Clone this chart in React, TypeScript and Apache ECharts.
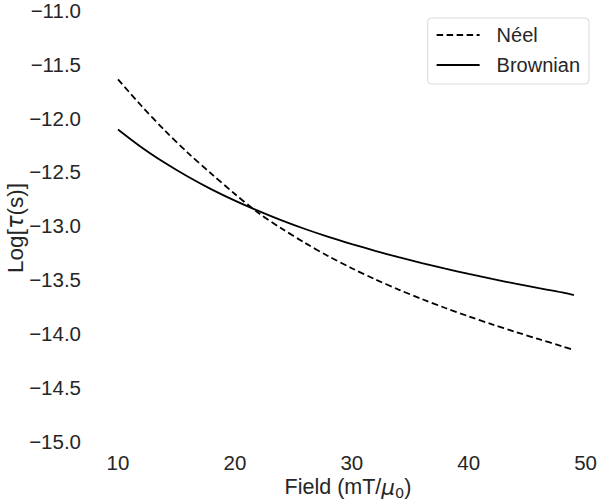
import React, { useEffect, useRef } from "react";
import * as echarts from "echarts";

const fieldValues = [10, 12, 14, 16, 18, 20, 22, 24, 26, 28, 30, 32, 34, 36, 38, 40, 42, 44, 46, 48, 49];
const neelLog = [-11.64, -11.885, -12.115, -12.325, -12.518, -12.705, -12.88, -13.026, -13.16, -13.283, -13.395, -13.498, -13.593, -13.681, -13.764, -13.842, -13.916, -13.986, -14.054, -14.12, -14.155];
const brownianLog = [-12.105, -12.27, -12.415, -12.545, -12.662, -12.767, -12.862, -12.95, -13.03, -13.103, -13.17, -13.233, -13.292, -13.347, -13.399, -13.448, -13.494, -13.538, -13.58, -13.62, -13.645];
const seriesNames = ["Néel", "Brownian"];
const xTicks = [10, 20, 30, 40, 50];
const yRange = [-15, -11];

const TEXT = "#262626";
const FONT = "'Liberation Sans', Arial, sans-serif";
const MATH = "'DejaVu Sans', sans-serif";
const TICK_FS = 20.5;
const LEG_FS = 20;
const XNAME_FS = 21.5;
const YNAME_FS = 22.5;

export default function App() {
  const ref = useRef<HTMLDivElement>(null);
  useEffect(() => {
    if (!ref.current) return;
    const chart = echarts.init(ref.current, null, { renderer: "svg" });
    const option = {
      animation: false,
      backgroundColor: "#ffffff",
      grid: { left: 118, right: 10, top: 9, bottom: 60, containLabel: false },
      xAxis: {
        type: "value",
        min: xTicks[0],
        max: xTicks[xTicks.length - 1],
        interval: 10,
        axisLine: { show: false },
        axisTick: { show: false },
        splitLine: { show: false },
        axisLabel: { color: TEXT, fontSize: TICK_FS, fontFamily: FONT, margin: 11 },
      },
      yAxis: {
        type: "value",
        min: yRange[0],
        max: yRange[1],
        interval: 0.5,
        axisLine: { show: false },
        axisTick: { show: false },
        splitLine: { show: false },
        axisLabel: {
          color: TEXT,
          fontSize: TICK_FS,
          fontFamily: FONT,
          margin: 37,
          formatter: (v: number) => v.toFixed(1).replace("-", "\u2212"),
        },
      },
      legend: {
        data: seriesNames,
        orient: "vertical",
        right: 11,
        top: 18,
        itemWidth: 43,
        itemHeight: 14,
        itemGap: 10,
        padding: [7, 9, 9, 8],
        borderColor: "#d9d9d9",
        borderWidth: 1,
        borderRadius: 4,
        itemStyle: { opacity: 0 },
        textStyle: { color: TEXT, fontSize: LEG_FS, fontFamily: FONT, padding: [0, 0, 0, 12] },
      },
      graphic: [
        {
          type: "text",
          x: 15,
          y: 228,
          rotation: Math.PI / 2,
          style: {
            text: "{t|Log[}{i|τ}{t|(s)]}",
            align: "center",
            verticalAlign: "middle",
            fill: TEXT,
            font: `${YNAME_FS}px ${FONT}`,
            rich: {
              t: { fontSize: YNAME_FS, fontFamily: FONT, fill: TEXT },
              i: { fontStyle: "italic", fontSize: YNAME_FS, fontFamily: MATH, fill: TEXT },
            },
          },
        },
        {
          type: "text",
          x: 348,
          y: 487,
          style: {
            text: "{t|Field (mT/}{i|μ}{s|0}{t|)}",
            align: "center",
            verticalAlign: "middle",
            fill: TEXT,
            font: `${XNAME_FS}px ${FONT}`,
            rich: {
              t: { fontSize: XNAME_FS, fontFamily: FONT, fill: TEXT, lineHeight: 26 },
              i: { fontStyle: "italic", fontSize: XNAME_FS, fontFamily: MATH, fill: TEXT, lineHeight: 26 },
              s: { fontSize: 14.5, fontFamily: MATH, fill: TEXT, lineHeight: 14, verticalAlign: "bottom" },
            },
          },
        },
      ],
      series: [
        {
          name: seriesNames[0],
          type: "line",
          data: fieldValues.map((x, i) => [x, neelLog[i]]),
          symbol: "none",
          smooth: 0.3,
          color: "#000000",
          lineStyle: { color: "#000000", width: 1.8, type: [6.5, 3.5] },
        },
        {
          name: seriesNames[1],
          type: "line",
          data: fieldValues.map((x, i) => [x, brownianLog[i]]),
          symbol: "none",
          smooth: 0.3,
          color: "#000000",
          lineStyle: { color: "#000000", width: 1.8, type: "solid" },
        },
      ],
    };
    chart.setOption(option as any);
    return () => chart.dispose();
  }, []);
  return (
    <div
      ref={ref}
      style={{ position: "absolute", left: 0, top: 0, width: 600, height: 501, background: "#fff" }}
    />
  );
}
